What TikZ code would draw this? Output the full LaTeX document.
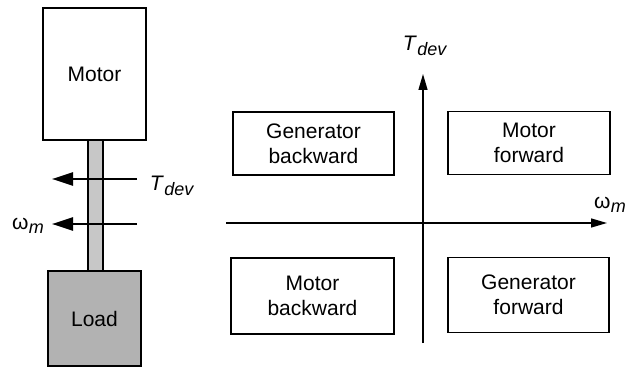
\documentclass[tikz,border=0pt]{standalone}
\usepackage{fontspec}
\setmainfont{Liberation Sans}
\usetikzlibrary{arrows.meta}
\newcommand{\tdev}{\textit{T}\kern0.5pt\raisebox{-4.5pt}{\fontsize{18}{18}\selectfont\textit{dev}}}
\newcommand{\omm}{ω\kern0.5pt\raisebox{-4.5pt}{\fontsize{18}{18}\selectfont\textit{m}}}
\tikzset{
  box/.style={draw, line width=1.2pt, inner sep=0pt, align=center,
    font=\fontsize{21}{25}\selectfont},
  bigarrow/.style={line width=2.4pt, -{Triangle[length=21pt,width=13pt]}},
  axis/.style={line width=1.4pt, -{Triangle[length=16pt,width=9pt]}},
  lbl/.style={inner sep=0pt, font=\fontsize{21}{25}\selectfont}
}
\begin{document}
\begin{tikzpicture}[x=1pt,y=-1pt]
\useasboundingbox (0,0) rectangle (639,374);
% left: motor, shaft, load
\node[box, minimum width=103pt, minimum height=132pt] (motor) at (94.5,74) {Motor};
\node[box, fill=black!22, minimum width=15pt, minimum height=131pt] (shaft) at (95.5,205.5) {};
\node[box, fill=black!30, minimum width=93pt, minimum height=95pt] (load) at (94.5,318.5) {Load};
\coordinate (ts) at (137,179);
\coordinate (te) at (52,179);
\coordinate (ws) at (137,224);
\coordinate (we) at (52,224);
\draw[bigarrow] (ts) -- (te);
\draw[bigarrow] (ws) -- (we);
\node[lbl] (tlab) at (172,186) {\tdev};
\node[lbl] (wlab) at (28,226) {\omm};
% right: quadrants
\coordinate (hx0) at (226,223);
\coordinate (hx1) at (607,223);
\coordinate (vy0) at (423,343);
\coordinate (vy1) at (423,74);
\draw[axis] (hx0) -- (hx1);
\draw[axis] (vy0) -- (vy1);
\node[lbl] (tax) at (425,46) {\tdev};
\node[lbl] (wax) at (610,205) {\omm};
\node[box, minimum width=161pt, minimum height=63pt] (gb) at (313.5,143.5) {Generator\\backward};
\node[box, minimum width=162pt, minimum height=63pt] (mf) at (529,143) {Motor\\forward};
\node[box, minimum width=163pt, minimum height=76pt] (mb) at (312.5,296) {Motor\\backward};
\node[box, minimum width=161pt, minimum height=75pt] (gf) at (528.5,295) {Generator\\forward};
\end{tikzpicture}
\end{document}
